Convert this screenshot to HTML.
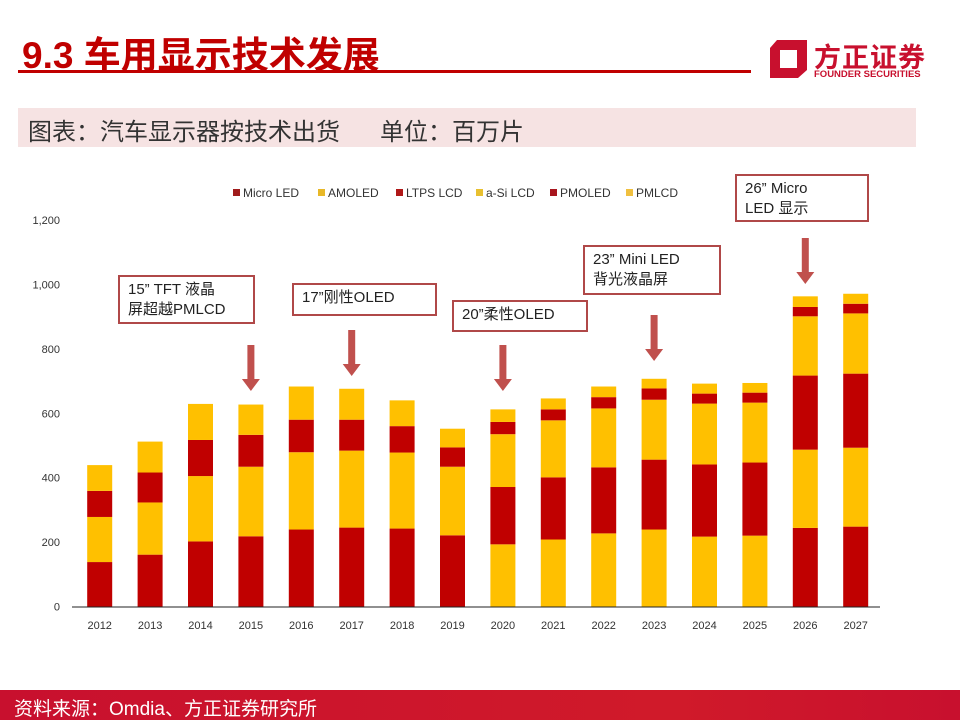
<!DOCTYPE html>
<html><head><meta charset="utf-8"><style>
body{margin:0;width:960px;height:720px;overflow:hidden;background:#fff;font-family:"Liberation Sans","Noto Sans CJK SC",sans-serif;position:relative}
.abs{position:absolute}
.box{position:absolute;border:2px solid #B04848;background:#fff;font-size:15px;color:#222;padding:3px 8px;line-height:20px;box-sizing:border-box}
</style></head><body>
<div class="abs" style="left:22px;top:25px;font-size:37px;font-weight:bold;color:#C00000;">9.3 车用显示技术发展</div>
<div class="abs" style="left:18px;top:70px;width:733px;height:3px;background:#C00000"></div>
<div class="abs" style="left:768px;top:36px;width:160px;height:46px">
  <svg width="42" height="44" style="position:absolute;left:0;top:0"><path d="M9 4 L39 4 L39 34 L30 42 L2 42 L2 12 Z M12 14 L12 32 L29 32 L29 14 Z" fill="#C8102E" fill-rule="evenodd"/></svg>
  <div class="abs" style="left:46px;top:0;font-size:27px;font-weight:bold;color:#C8102E;letter-spacing:1px">方正证券</div>
  <div class="abs" style="left:46px;top:33px;font-size:9.5px;font-weight:bold;color:#C8102E">FOUNDER SECURITIES</div>
</div>
<div class="abs" style="left:18px;top:108px;width:898px;height:39px;background:#F6E3E3"></div>
<div class="abs" style="left:28px;top:112px;font-size:24px;color:#333;white-space:pre">图表：汽车显示器按技术出货      单位：百万片</div>

<svg id="chart" class="abs" style="left:0;top:0" width="960" height="720"></svg>

<div class="box" style="left:118px;top:275px;width:137px;height:49px">15”  TFT 液晶<br>屏超越PMLCD</div>
<div class="box" style="left:292px;top:283px;width:145px;height:33px">17”刚性OLED</div>
<div class="box" style="left:452px;top:300px;width:136px;height:32px">20”柔性OLED</div>
<div class="box" style="left:583px;top:245px;width:138px;height:50px">23”  Mini LED<br>背光液晶屏</div>
<div class="box" style="left:735px;top:174px;width:134px;height:48px">26”  Micro<br>LED 显示</div>

<div class="abs" style="left:0;top:690px;width:960px;height:30px;background:linear-gradient(90deg,#C8102E 0%,#D01A2A 70%,#C8102E 100%)"></div>
<div class="abs" style="left:14px;top:694px;font-size:19px;color:#fff">资料来源：Omdia、方正证券研究所</div>

<script>
const years=["2012","2013","2014","2015","2016","2017","2018","2019","2020","2021","2022","2023","2024","2025","2026","2027"];
const layer0=[138,161,202,218,239,245,242,221,193,208,227,239,217,220,244,248];
const layer1=[140,162,203,216,240,239,236,213,178,193,205,217,224,227,243,245];
const layer2=[81,93,112,99,101,96,82,60,164,177,183,186,189,186,230,230];
const layer3=[80,96,112,94,103,96,80,58,38,34,35,35,31,31,184,187];
const layer4=[0,0,0,0,0,0,0,0,39,34,33,30,31,30,29,30];
const layer5=[0,0,0,0,0,0,0,0,0,0,0,0,0,0,33,31];
const colorOffset=[0,0,0,0,0,0,0,0,1,1,1,1,1,1,0,0];
const yTicks=[0,200,400,600,800,1000,1200];
const yTickLabels=["0","200","400","600","800","1,000","1,200"];
const legendNames=["Micro LED","AMOLED","LTPS LCD","a-Si LCD","PMOLED","PMLCD"];
const legendColors=["#A01C1C","#E8B828","#B01818","#E8C030","#A8161E","#F0C040"];
const arrowX=["2015","2017","2020","2023","2026"];
const arrowTop=[345,330,345,315,238];

const RED="#C00000",YEL="#FFC000";
const svg=document.getElementById('chart');
const NS="http://www.w3.org/2000/svg";
const y0=606.5,yTop=220,yMax=1200;
const yScale=v=>y0-(v/yMax)*(y0-yTop);
const x0=99.7,step=50.4,bw=25;
const xScale=i=>x0+i*step;
function mk(t,a){const e=document.createElementNS(NS,t);for(const k in a)e.setAttribute(k,a[k]);svg.appendChild(e);return e;}

yTicks.forEach((v,i)=>{
  const t=mk('text',{x:60,y:yScale(v)+4,'text-anchor':'end','font-size':11,fill:'#333'});
  t.textContent=yTickLabels[i];
  
  
});
const layers=[layer0,layer1,layer2,layer3,layer4,layer5];
years.forEach((yr,i)=>{
  let base=0;
  layers.forEach((L,k)=>{
    const v=L[i]; if(!v) return;
    const c=((k+colorOffset[i])%2===0)?RED:YEL;
    const r=mk('rect',{x:xScale(i)-bw/2,y:yScale(base+v),width:bw,height:yScale(base)-yScale(base+v),fill:c});
    
    
    base+=v;
  });
  const t=mk('text',{x:xScale(i),y:629,'text-anchor':'middle','font-size':11,fill:'#333'});
  t.textContent=yr;
  
  
});
const ax=mk('line',{x1:72,x2:880,y1:y0+0.5,y2:y0+0.5,stroke:'#222','stroke-width':1});



const legX=[233,318,396,476,550,626];
legendNames.forEach((n,i)=>{
  const r=mk('rect',{x:legX[i],y:189,width:7,height:7,fill:legendColors[i]});
  
  
  const t=mk('text',{x:legX[i]+10,y:197,'font-size':12,fill:'#333'});
  t.textContent=n;
  
  
});

arrowX.forEach((yr,i)=>{
  const x=xScale(years.indexOf(yr));
  const top=arrowTop[i],bot=top+46;
  const g=mk('path',{d:`M${x-3.5} ${top} L${x+3.5} ${top} L${x+3.5} ${bot-12} L${x+9} ${bot-12} L${x} ${bot} L${x-9} ${bot-12} L${x-3.5} ${bot-12} Z`,fill:'#C0504D'});
  
  
});
</script>
</body></html>
